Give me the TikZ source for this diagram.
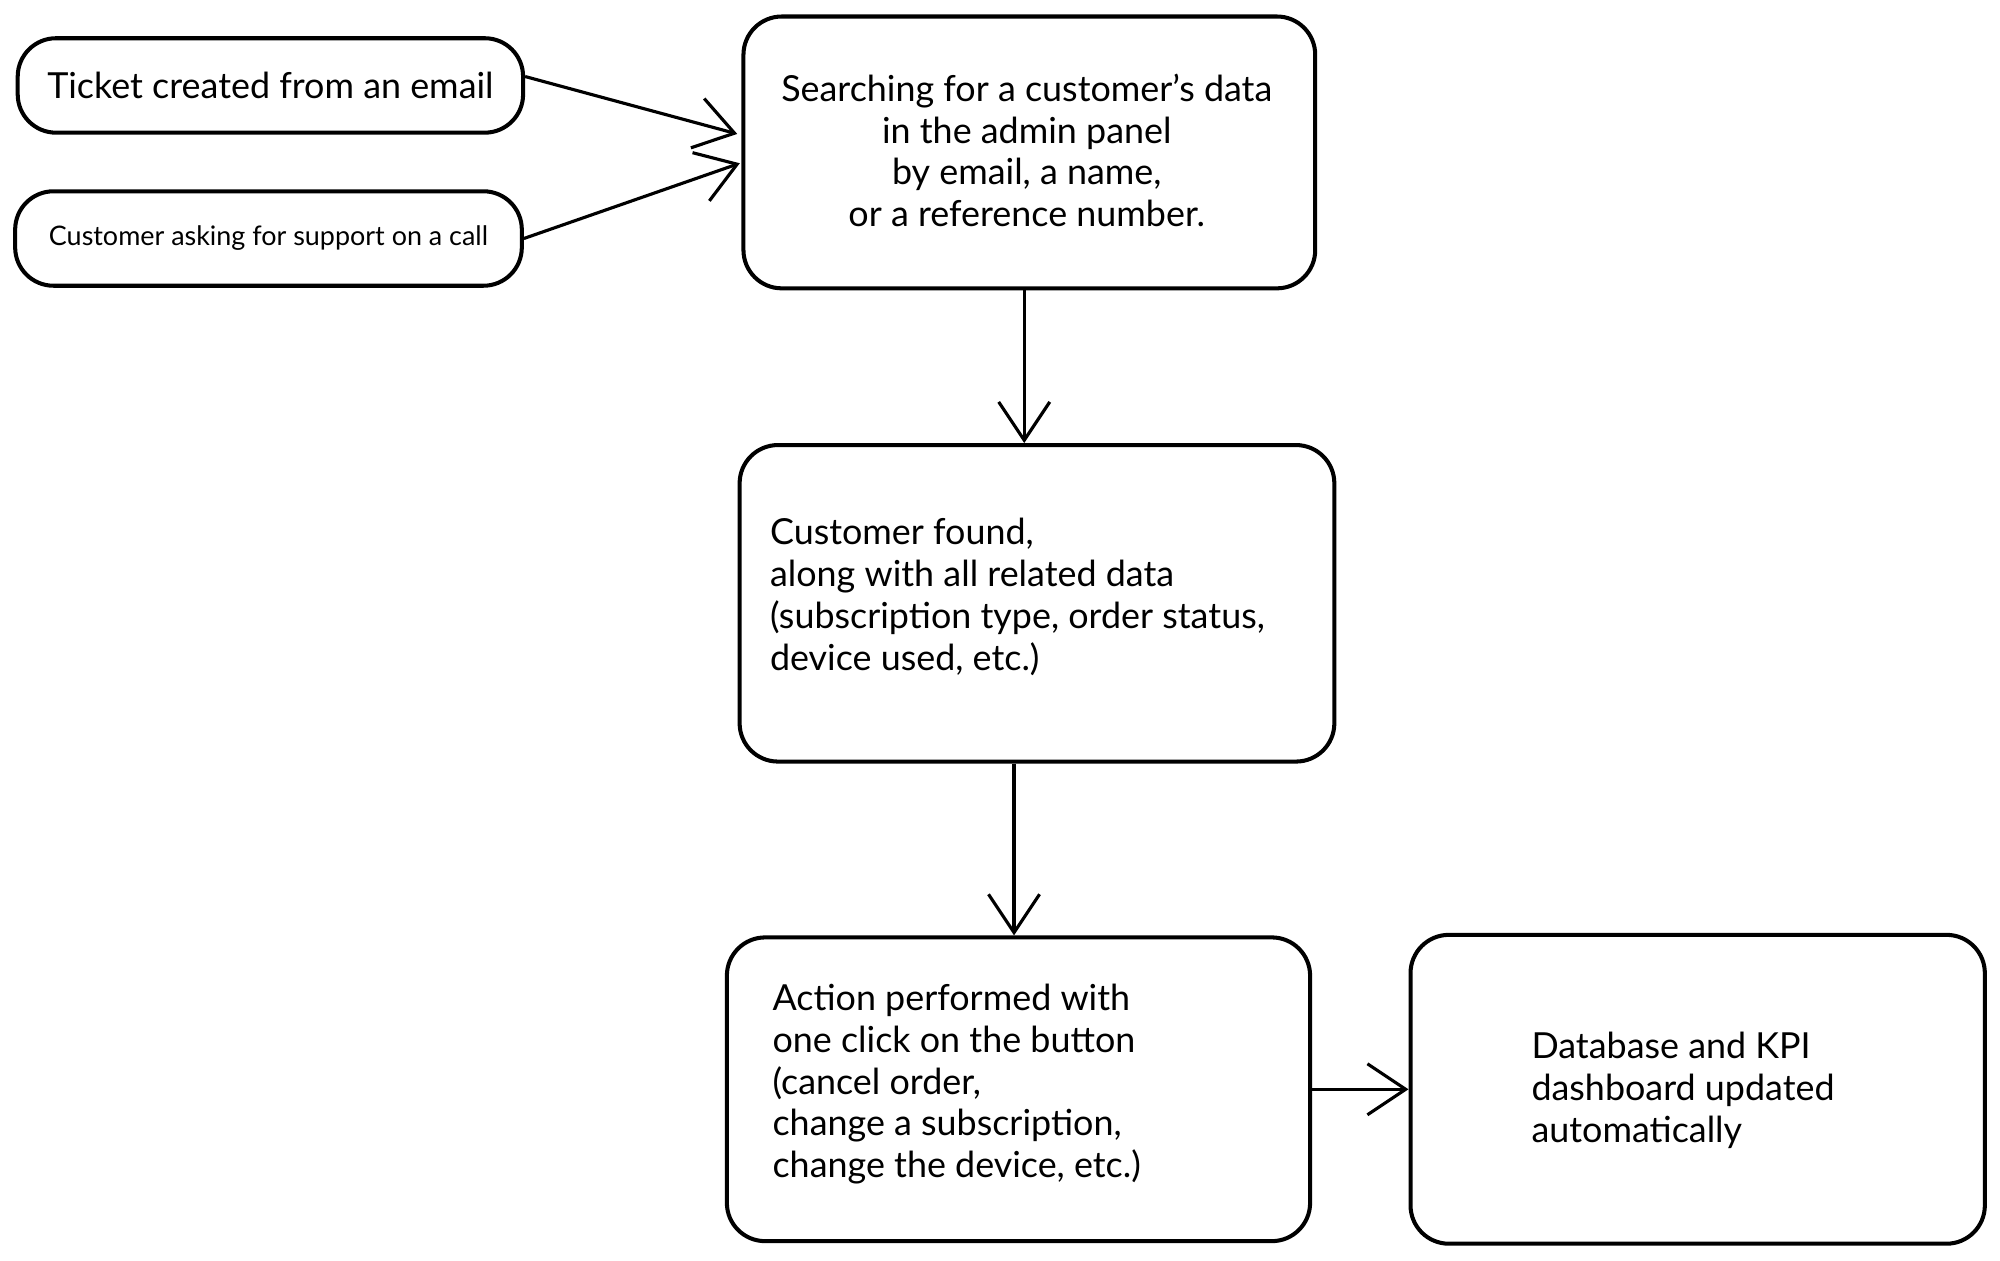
\documentclass[tikz,border=0pt]{standalone}
\usepackage{fontspec}
\usetikzlibrary{arrows.meta}
\setmainfont{Lato}
\begin{document}
\begin{tikzpicture}[x=0.01cm,y=-0.01cm,
  box/.style={draw,line width=0.9pt,rounded corners=0.3cm,inner sep=0pt},
  txt/.style={font=\fontsize{8}{9.3}\selectfont,inner sep=0pt},
  arr/.style={->,line width=0.7pt,>={Straight Barb[length=3mm,width=4mm]}}]
\useasboundingbox (0,0) rectangle (1568,988);
\node[box,minimum width=3.96cm,minimum height=0.74cm] (a) at (212,67) {};
\node[txt] at (a) {Ticket created from an email};
\node[box,minimum width=3.97cm,minimum height=0.74cm] (b) at (210.5,187) {};
\node[txt,font=\fontsize{6}{7}\selectfont] at (b) {Customer asking for support on a call};
\node[box,minimum width=4.48cm,minimum height=2.13cm] (c) at (807,119.5) {};
\node[txt,align=center] (ct) at (805,118) {Searching for a customer's data\\in the admin panel\\by email, a name,\\or a reference number.};
\node[box,minimum width=4.66cm,minimum height=2.48cm] (d) at (813,473) {};
\node[txt,align=left,anchor=west] (dt) at (603,468) {Customer found,\\along with all related data\\(subscription type, order status,\\device used, etc.)};
\node[box,minimum width=4.57cm,minimum height=2.38cm] (e) at (798.5,854) {};
\node[txt,align=left,anchor=west] (et) at (605,850) {Action performed with\\one click on the button\\(cancel order,\\change a subscription,\\change the device, etc.)};
\node[box,minimum width=4.5cm,minimum height=2.42cm] (f) at (1331,854) {};
\node[txt,align=left,anchor=west] (ft) at (1200,855) {Database and KPI\\dashboard updated\\automatically};
\coordinate (ce1) at (578,105);
\coordinate (ce2) at (580,128);
\draw[arr] (a.east) ++(0,-7) -- (ce1);
\draw[arr] (b.east) -- (ce2);
\draw[arr] (c.south -| 803,0) -- (d.north -| 803,0);
\draw[arr] (d.south -| 795,0) -- (e.north -| 795,0);
\draw[arr] (e.east) -- (f.west);
\end{tikzpicture}
\end{document}
